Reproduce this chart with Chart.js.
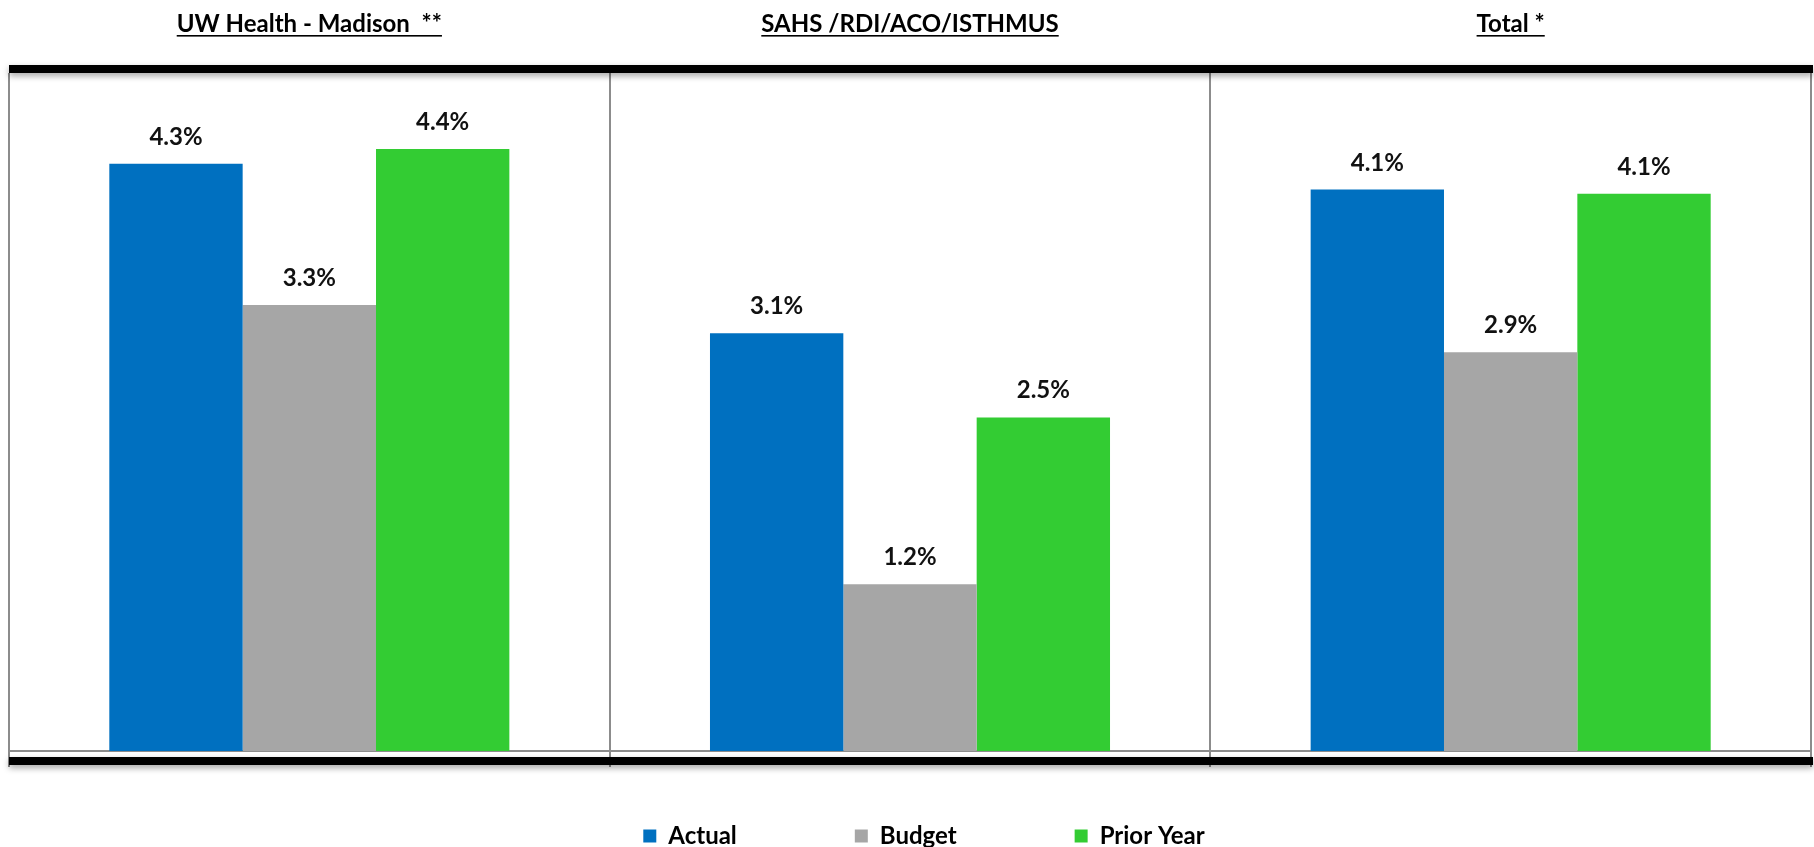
<!DOCTYPE html>
<html>
<head>
<meta charset="utf-8">
<script src="https://cdn.jsdelivr.net/npm/chart.js@4.4.1/dist/chart.umd.min.js"></script>
<style>
  html, body { margin: 0; padding: 0; background: #fff; }
  #wrap { width: 1814px; height: 847px; }
</style>
</head>
<body>
<div id="wrap"><canvas id="chart"></canvas></div>
<script>
// values (percent)
const panels = ['UW Health - Madison  **', 'SAHS /RDI/ACO/ISTHMUS', 'Total *'];
const actual = [4.33, 3.08, 4.14];
const budget = [3.29, 1.23, 2.94];
const priorYear = [4.44, 2.46, 4.11];
const seriesNames = ['Actual', 'Budget', 'Prior Year'];
const seriesColors = ['#0070C0', '#A6A6A6', '#33CC33'];

const FONT = 'Lato, "Liberation Sans", Arial, sans-serif';
const legendGap = 118;

// underlined panel titles above each group
const titlePlugin = {
    id: 'panelTitles',
    afterDraw(chart) {
        const ctx = chart.ctx;
        const x = chart.scales.x;
        ctx.save();
        ctx.font = 'bold 24px ' + FONT;
        ctx.fillStyle = '#000';
        ctx.textAlign = 'center';
        ctx.textBaseline = 'alphabetic';
        chart.data.labels.forEach((lbl, i) => {
            const cx = x.getPixelForValue(i);
            const w = ctx.measureText(lbl).width;
            ctx.fillText(lbl, cx, 32);
            ctx.fillRect(cx - w / 2, 35, w, 1.6);
        });
        ctx.restore();
    }
};

// value labels over bars
const valuePlugin = {
    id: 'valueLabels',
    afterDatasetsDraw(chart) {
        const ctx = chart.ctx;
        ctx.save();
        ctx.font = 'bold 24px ' + FONT;
        ctx.fillStyle = '#111';
        ctx.textAlign = 'center';
        ctx.textBaseline = 'alphabetic';
        chart.data.datasets.forEach((ds, i) => {
            chart.getDatasetMeta(i).data.forEach((bar, j) => {
                ctx.fillText(ds.data[j].toFixed(1) + '%', bar.x, bar.y - 19);
            });
        });
        ctx.restore();
    }
};

// thick black rules on top and bottom of the plot, with a soft shadow
const framePlugin = {
    id: 'frame',
    afterDraw(chart) {
        const {ctx, chartArea: a} = chart;
        ctx.save();
        ctx.fillStyle = '#000';
        ctx.shadowColor = 'rgba(0,0,0,0.35)';
        ctx.shadowBlur = 6;
        ctx.shadowOffsetY = 3;
        ctx.fillRect(a.left, a.top - 8, a.right - a.left + 2, 8);
        ctx.fillRect(a.left, a.bottom + 6, a.right - a.left + 2, 8);
        ctx.restore();
    }
};

// wide spacing between legend items, but keep the legend low
const legendNudge = {
    id: 'legendNudge',
    afterLayout(chart) {
        const lg = chart.legend;
        lg.top = 836 - legendGap - 12;
        lg.bottom = chart.height;
        lg.height = lg.bottom - lg.top;
        lg.left += 14;
        lg.right += 14;
    }
};

new Chart(document.getElementById('chart'), {
    type: 'bar',
    data: {
        labels: panels,
        datasets: [
            { label: seriesNames[0], data: actual, backgroundColor: seriesColors[0] },
            { label: seriesNames[1], data: budget, backgroundColor: seriesColors[1] },
            { label: seriesNames[2], data: priorYear, backgroundColor: seriesColors[2] }
        ]
    },
    options: {
        responsive: true,
        maintainAspectRatio: false,
        devicePixelRatio: 1,
        animation: false,
        layout: { padding: { top: 73, left: 9, right: 3, bottom: 0 } },
        datasets: {
            bar: { categoryPercentage: 0.666, barPercentage: 1.0, borderWidth: 0 }
        },
        scales: {
            x: {
                ticks: { display: false },
                grid: {
                    offset: true,
                    color: '#8c8c8c',
                    lineWidth: 2,
                    drawTicks: true,
                    tickLength: 16
                },
                border: { display: true, color: '#8c8c8c', width: 2 }
            },
            y: {
                display: false,
                min: 0,
                max: 5
            }
        },
        plugins: {
            tooltip: { enabled: false },
            legend: {
                position: 'bottom',
                maxHeight: 80,
                labels: {
                    boxWidth: 13,
                    boxHeight: 13,
                    padding: legendGap,
                    color: '#000',
                    font: { family: FONT, size: 24, weight: 'bold' }
                }
            }
        }
    },
    plugins: [legendNudge, valuePlugin, framePlugin, titlePlugin]
});
</script>
</body>
</html>
